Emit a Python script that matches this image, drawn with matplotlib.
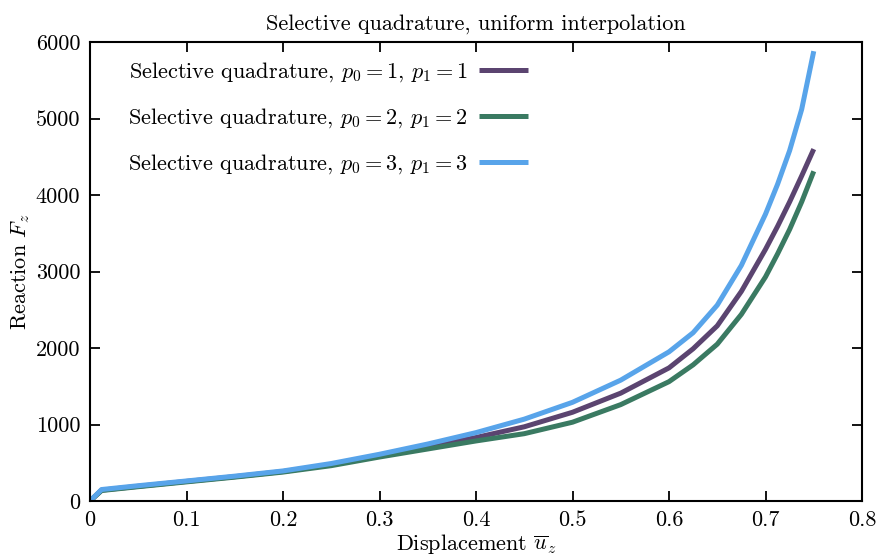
import matplotlib
matplotlib.use("Agg")
import matplotlib.pyplot as plt

plt.rcParams['font.family'] = 'serif'
plt.rcParams['font.serif'] = ['cmr10', 'DejaVu Serif']
plt.rcParams['mathtext.fontset'] = 'cm'
plt.rcParams['axes.formatter.use_mathtext'] = True

# Data
disp = [0, 0.012, 0.05, 0.1, 0.15, 0.2, 0.25, 0.3, 0.35, 0.4, 0.45, 0.5,
        0.55, 0.6, 0.625, 0.65, 0.675, 0.7, 0.7125, 0.725, 0.7375, 0.75]
react_p1 = [0, 142, 192, 256, 318, 385, 475, 590, 705, 830, 970, 1160,
            1410, 1740, 1990, 2290, 2740, 3290, 3590, 3910, 4250, 4600]
react_p2 = [0, 137, 187, 250, 312, 378, 462, 575, 680, 785, 880, 1030,
            1260, 1560, 1780, 2050, 2440, 2930, 3230, 3550, 3910, 4310]
react_p3 = [0, 150, 200, 262, 325, 393, 490, 611, 745, 894, 1070, 1290,
            1580, 1950, 2200, 2560, 3080, 3750, 4140, 4580, 5120, 5880]

labels = [r"Selective quadrature, $p_0 = 1$, $p_1 = 1$",
          r"Selective quadrature, $p_0 = 2$, $p_1 = 2$",
          r"Selective quadrature, $p_0 = 3$, $p_1 = 3$"]
colors = ['#5b4470', '#3a7a62', '#58a4ea']

xticks = [0, 0.1, 0.2, 0.3, 0.4, 0.5, 0.6, 0.7, 0.8]
xticklabels = ['0', '0.1', '0.2', '0.3', '0.4', '0.5', '0.6', '0.7', '0.8']
yticks = [0, 1000, 2000, 3000, 4000, 5000, 6000]
yticklabels = ['0', '1000', '2000', '3000', '4000', '5000', '6000']

W, H = 884, 559
fig = plt.figure(figsize=(W / 100, H / 100), dpi=100)
ax = fig.add_axes([90 / W, 1 - 501 / H, (862 - 90) / W, (501 - 42) / H])

for ys, lab, c in zip([react_p1, react_p2, react_p3], labels, colors):
    ax.plot(disp, ys, color=c, lw=3.6, label=lab, solid_capstyle='butt',
            solid_joinstyle='round')

ax.set_xlim(0, 0.8)
ax.set_ylim(0, 6000)
ax.set_xticks(xticks)
ax.set_xticklabels(xticklabels)
ax.set_yticks(yticks)
ax.set_yticklabels(yticklabels)
ax.tick_params(direction='in', length=7, width=1.3, top=True, right=True,
               labelsize=16, pad=7)
for s in ax.spines.values():
    s.set_linewidth(1.5)

ax.set_title("Selective quadrature, uniform interpolation", fontsize=16, pad=9)
ax.set_xlabel(r"Displacement $\overline{u}_z$", fontsize=16, labelpad=1)
ax.set_ylabel(r"Reaction $F_z$", fontsize=16, labelpad=3)

leg = ax.legend(loc='upper left', bbox_to_anchor=(128 / W, 1 - 60 / H),
                bbox_transform=fig.transFigure, frameon=False,
                markerfirst=False, fontsize=16, handlelength=2.2,
                handletextpad=0.5, labelspacing=1.0, borderpad=0,
                borderaxespad=0)

fig.savefig("out.png", dpi=100)
